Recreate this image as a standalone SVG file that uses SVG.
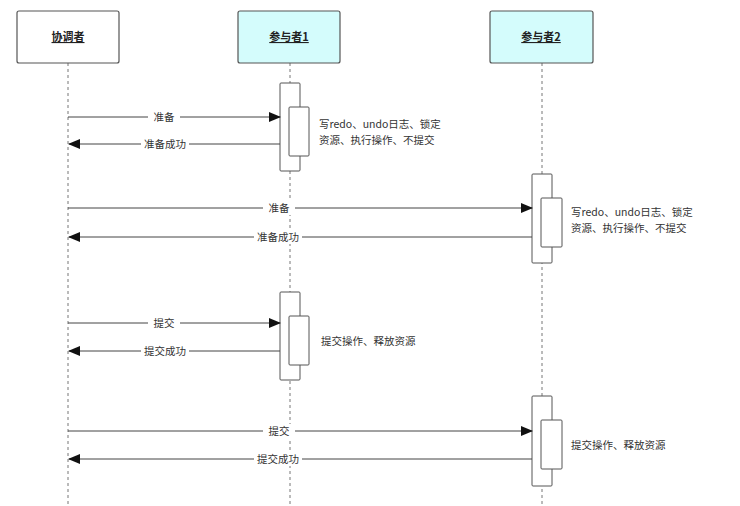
<svg xmlns="http://www.w3.org/2000/svg" width="740" height="506" viewBox="0 0 740 506">
<defs>
<marker id="arr" markerWidth="12" markerHeight="10" refX="11" refY="5" orient="auto" markerUnits="userSpaceOnUse">
<path d="M0,0 L12,5 L0,10 Z" fill="#111"/>
</marker>
<style>
.head{stroke:#555;stroke-width:1.2;}
.ht{font-family:"Noto Sans CJK SC","Noto Sans",sans-serif;font-size:11px;font-weight:bold;fill:#222;text-anchor:middle;text-decoration:underline;}
.life{stroke:#777;stroke-width:1;stroke-dasharray:3,3;fill:none;}
.act{fill:#fff;stroke:#555;stroke-width:1;}
.msg{stroke:#444;stroke-width:1;fill:none;}
.lbl{font-family:"Noto Sans CJK SC","Noto Sans",sans-serif;font-size:10.5px;fill:#333;text-anchor:middle;}
.note{font-family:"Noto Sans CJK SC","Noto Sans",sans-serif;font-size:10.5px;fill:#333;}
.bg{fill:#fff;}
</style>
</defs>
<rect width="740" height="506" fill="#fff"/>
<g id="lifelines">
<line class="life" x1="68" y1="63" x2="68" y2="506"/>
<line class="life" x1="290" y1="63" x2="290" y2="506"/>
<line class="life" x1="542" y1="63" x2="542" y2="506"/>
</g>
<g id="coordinator">
<rect class="head" x="17" y="11" width="102" height="52" rx="2" fill="#fff"/>
<text class="ht" x="68" y="41">协调者</text>
</g>
<g id="participant1">
<rect class="head" x="238" y="11" width="102" height="52" rx="2" fill="#d4fcfc"/>
<text class="ht" x="289" y="41">参与者1</text>
</g>
<g id="participant2">
<rect class="head" x="490" y="11" width="103" height="52" rx="2" fill="#d4fcfc"/>
<text class="ht" x="541" y="41">参与者2</text>
</g>
<g id="activations">
<rect class="act" x="280" y="83" width="20" height="88" rx="1"/>
<rect class="act" x="289" y="107" width="20" height="49" rx="1"/>
<rect class="act" x="532" y="174" width="20" height="89" rx="1"/>
<rect class="act" x="541" y="198" width="21" height="49" rx="1"/>
<rect class="act" x="280" y="292" width="20" height="88" rx="1"/>
<rect class="act" x="289" y="316" width="20" height="49" rx="1"/>
<rect class="act" x="532" y="396" width="20" height="90" rx="1"/>
<rect class="act" x="541" y="420" width="21" height="49" rx="1"/>
</g>
<g id="connectors">
<line class="msg" x1="68" y1="117" x2="280" y2="117" marker-end="url(#arr)"/>
<line class="msg" x1="280" y1="144" x2="69" y2="144" marker-end="url(#arr)"/>
<line class="msg" x1="68" y1="208" x2="532" y2="208" marker-end="url(#arr)"/>
<line class="msg" x1="532" y1="237" x2="69" y2="237" marker-end="url(#arr)"/>
<line class="msg" x1="68" y1="323" x2="280" y2="323" marker-end="url(#arr)"/>
<line class="msg" x1="280" y1="351" x2="69" y2="351" marker-end="url(#arr)"/>
<line class="msg" x1="68" y1="431" x2="532" y2="431" marker-end="url(#arr)"/>
<line class="msg" x1="532" y1="459" x2="69" y2="459" marker-end="url(#arr)"/>
</g>
<g id="labels">
<rect class="bg" x="148" y="110" width="32" height="14"/>
<text class="lbl" x="164" y="121">准备</text>
<rect class="bg" x="141" y="137" width="48" height="14"/>
<text class="lbl" x="165" y="148">准备成功</text>
<rect class="bg" x="263" y="201" width="32" height="14"/>
<text class="lbl" x="279" y="212">准备</text>
<rect class="bg" x="254" y="230" width="48" height="14"/>
<text class="lbl" x="278" y="241">准备成功</text>
<rect class="bg" x="148" y="316" width="32" height="14"/>
<text class="lbl" x="164" y="327">提交</text>
<rect class="bg" x="141" y="344" width="48" height="14"/>
<text class="lbl" x="165" y="355">提交成功</text>
<rect class="bg" x="263" y="424" width="32" height="14"/>
<text class="lbl" x="279" y="435">提交</text>
<rect class="bg" x="254" y="452" width="48" height="14"/>
<text class="lbl" x="278" y="463">提交成功</text>
</g>
<g id="notes">
<text class="note" x="319" y="128">写redo、undo日志、锁定</text>
<text class="note" x="319" y="144">资源、执行操作、不提交</text>
<text class="note" x="571" y="216">写redo、undo日志、锁定</text>
<text class="note" x="571" y="232">资源、执行操作、不提交</text>
<text class="note" x="321" y="345">提交操作、释放资源</text>
<text class="note" x="571" y="449">提交操作、释放资源</text>
</g>
</svg>
